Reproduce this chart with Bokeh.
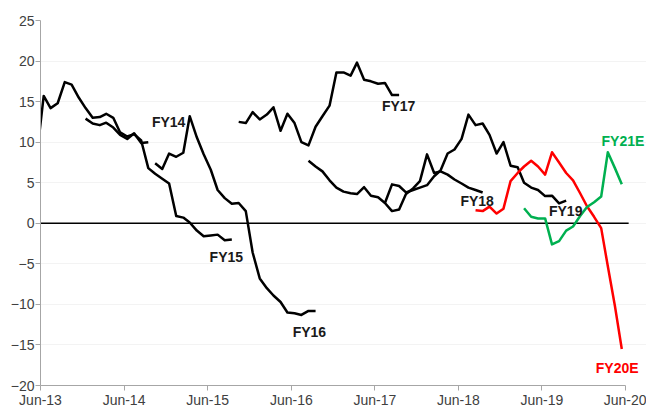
import pandas as pd
from bokeh.plotting import figure
from bokeh.models import Range1d, FixedTicker, DatetimeTickFormatter, Label
from bokeh.embed import file_html
from bokeh.resources import INLINE

# ---- data (monthly consensus EPS growth revisions, %) ----
fy14_start = "2013-12-15"
fy14 = [12.9, 12.3, 12.1, 12.4, 11.8, 10.9, 10.4, 11.1, 9.9, 10.0]

fy15_start = "2013-05-15"
fy15 = [8.1, 15.7, 14.2, 14.8, 17.4, 17.1, 15.5, 14.2, 13.0, 13.1, 13.5, 13.0, 11.2, 10.7,
        11.0, 10.2, 6.8, 6.1, 5.5, 4.9, 0.9, 0.7, 0.1, -0.9, -1.6, -1.5, -1.4, -2.1, -2.0]

fy16_start = "2014-10-15"
fy16 = [7.4, 6.7, 8.6, 8.2, 8.7, 13.2, 10.6, 8.5, 6.6, 4.1, 3.1, 2.4, 2.5, 1.5, -3.6,
        -6.8, -8.0, -8.9, -9.7, -11.0, -11.1, -11.3, -10.8, -10.8]

fy17_start = "2015-10-15"
fy17 = [12.5, 12.35, 13.7, 12.8, 13.4, 14.3, 11.4, 13.5, 12.35, 10.0, 9.6, 11.9, 13.2, 14.5,
        18.6, 18.6, 18.2, 19.8, 17.7, 17.5, 17.2, 17.3, 15.8, 15.8]

fy18_start = "2016-08-15"
fy18 = [7.7, 7.0, 6.4, 5.3, 4.4, 3.9, 3.7, 3.6, 4.45, 3.4, 3.2, 2.5, 1.5, 1.7, 3.6, 4.3,
        5.2, 8.5, 6.2, 6.4, 6.0, 5.4, 4.9, 4.4, 4.1, 3.8]

fy19_start = "2017-07-15"
fy19 = [2.5, 4.8, 4.6, 3.8, 4.1, 4.4, 4.7, 5.8, 6.5, 8.6, 9.1, 10.4, 13.4, 12.1, 12.3, 10.9,
        8.6, 10.0, 7.1, 6.9, 5.0, 4.4, 4.1, 3.35, 3.4, 2.45, 2.8]

fy20e_start = "2018-08-15"
fy20e = [1.6, 1.5, 2.05, 1.2, 1.8, 5.2, 6.2, 7.0, 7.7, 7.0, 6.0, 8.75, 7.5, 6.2, 5.3, 3.7,
         2.1, 0.8, -0.6, -5.3, -10.2, -15.5]

fy21e_start = "2019-03-15"
fy21e = [1.85, 0.8, 0.6, 0.6, -2.6, -2.2, -0.9, -0.4, 0.9, 2.0, 2.6, 3.3, 8.75, 6.8, 4.8]

x_tick_years = [2013, 2014, 2015, 2016, 2017, 2018, 2019, 2020]
y_ticks = [-20, -15, -10, -5, 0, 5, 10, 15, 20, 25]

axis_start = "2013-06-01"
axis_end = "2020-06-01"
zero_line_end = "2020-06-14"
view_end = "2020-08-31"   # extra room on the right for the FY21E / FY20E labels

BLACK = "#000000"
RED = "#ff0000"
GREEN = "#00b050"


def ms(s):
    return pd.Timestamp(s).value / 1e6


def months(start, n):
    return pd.date_range(start, periods=n, freq=pd.DateOffset(months=1))


p = figure(width=646, height=410, x_axis_type="datetime", output_backend="svg",
           toolbar_location=None,
           x_range=Range1d(ms(axis_start), ms(view_end)),
           y_range=Range1d(-20, 25),
           min_border_left=40, min_border_right=0, min_border_top=20, min_border_bottom=22)

p.outline_line_color = None
p.xgrid.grid_line_color = None
p.ygrid.grid_line_color = "#f3f3f3"
p.ygrid.ticker = FixedTicker(ticks=y_ticks)
p.ygrid.bounds = (ms(axis_start), ms(zero_line_end))

# zero line
p.segment(x0=[pd.Timestamp(axis_start)], y0=[0], x1=[pd.Timestamp(zero_line_end)], y1=[0],
          line_color="#000000", line_width=1.5)

series = [
    (fy15_start, fy15, BLACK),
    (fy14_start, fy14, BLACK),
    (fy16_start, fy16, BLACK),
    (fy17_start, fy17, BLACK),
    (fy18_start, fy18, BLACK),
    (fy19_start, fy19, BLACK),
    (fy20e_start, fy20e, RED),
    (fy21e_start, fy21e, GREEN),
]
for start, vals, col in series:
    p.line(months(start, len(vals)), vals, line_color=col, line_width=2.5, line_join="round")

labels = [
    ("FY14", "2014-12-13", 12.5, BLACK),
    ("FY15", "2015-08-22", -4.1, BLACK),
    ("FY16", "2016-08-19", -13.4, BLACK),
    ("FY17", "2017-09-13", 14.5, BLACK),
    ("FY18", "2018-08-22", 2.7, BLACK),
    ("FY19", "2019-09-13", 1.5, BLACK),
    ("FY20E", "2020-04-25", -17.8, RED),
    ("FY21E", "2020-05-20", 10.2, GREEN),
]
for txt, d, yv, col in labels:
    p.add_layout(Label(x=ms(d), y=yv, text=txt, text_align="center", text_baseline="middle",
                       text_font="Liberation Sans", text_font_size="14px",
                       text_font_style="bold", text_color=col if col != BLACK else "#1a1a1a"))

p.xaxis.ticker = FixedTicker(ticks=[ms(f"{y}-06-01") for y in x_tick_years])
p.xaxis.bounds = (ms(axis_start), ms(axis_end))
fmt = "%b-%y"
p.xaxis.formatter = DatetimeTickFormatter(days=fmt, months=fmt, years=fmt, hours=fmt,
                                          hourmin=fmt, minutes=fmt, minsec=fmt, seconds=fmt,
                                          milliseconds=fmt, microseconds=fmt)
p.yaxis.ticker = FixedTicker(ticks=y_ticks)

for ax in (p.xaxis, p.yaxis):
    ax.axis_line_color = "#a6a6a6"
    ax.axis_line_width = 1
    ax.major_tick_line_color = "#a6a6a6"
    ax.major_tick_out = 5
    ax.major_tick_in = 0
    ax.minor_tick_line_color = None
    ax.major_label_text_font = "Liberation Sans"
    ax.major_label_text_font_size = "14px"
    ax.major_label_text_color = "#404040"
    ax.major_label_standoff = 1
    ax.axis_label_standoff = 0

open("out.html", "w").write(file_html(p, INLINE))
